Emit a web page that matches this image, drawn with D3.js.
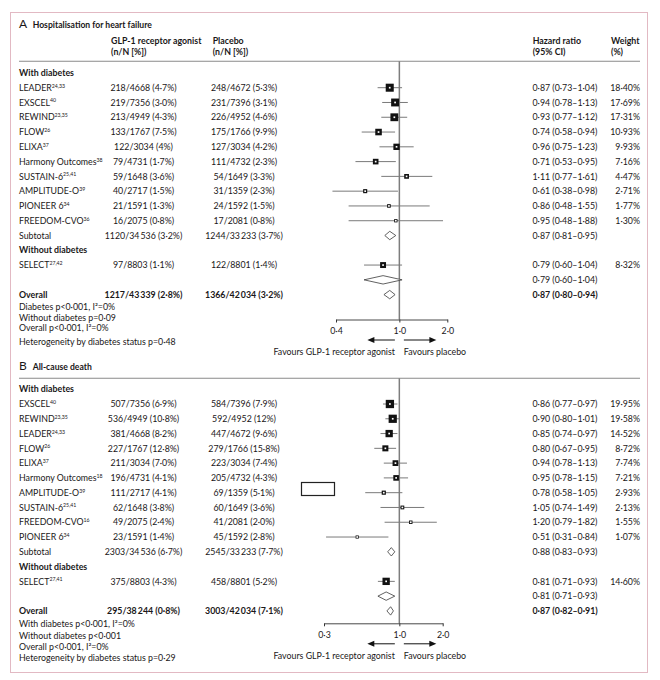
<!DOCTYPE html>
<html>
<head>
<meta charset="utf-8">
<script src="https://cdn.jsdelivr.net/npm/d3@7"></script>
<style>
  body { margin: 0; background: #fff; }
  text { font-family: Lato, "Liberation Sans", sans-serif; fill: #1a1718; }
</style>
</head>
<body>
<script>
// ---- Panel A: hospitalisation for heart failure ----
const hfStudies = ["LEADER", "EXSCEL", "REWIND", "FLOW", "ELIXA", "Harmony Outcomes",
    "SUSTAIN-6", "AMPLITUDE-O", "PIONEER 6", "FREEDOM-CVO"];
const hfRefs = ["24,33", "40", "23,35", "26", "37", "38", "25,41", "39", "34", "36"];
const hfGlp = ["218/4668 (4·7%)", "219/7356 (3·0%)", "213/4949 (4·3%)", "133/1767 (7·5%)",
    "122/3034 (4%)", "79/4731 (1·7%)", "59/1648 (3·6%)", "40/2717 (1·5%)", "21/1591 (1·3%)",
    "16/2075 (0·8%)"];
const hfPlacebo = ["248/4672 (5·3%)", "231/7396 (3·1%)", "226/4952 (4·6%)", "175/1766 (9·9%)",
    "127/3034 (4·2%)", "111/4732 (2·3%)", "54/1649 (3·3%)", "31/1359 (2·3%)", "24/1592 (1·5%)",
    "17/2081 (0·8%)"];
const hfHR = [0.87, 0.94, 0.93, 0.74, 0.96, 0.71, 1.11, 0.61, 0.86, 0.95];
const hfLow = [0.73, 0.78, 0.77, 0.58, 0.75, 0.53, 0.77, 0.38, 0.48, 0.48];
const hfHigh = [1.04, 1.13, 1.12, 0.94, 1.23, 0.95, 1.61, 0.98, 1.55, 1.88];
const hfWeight = [18.40, 17.69, 17.31, 10.93, 9.93, 7.16, 4.47, 2.71, 1.77, 1.30];
const hfSubtotal = [0.87, 0.81, 0.95];
const hfSubtotalCounts = ["1120/34\u2009536 (3·2%)", "1244/33\u2009233 (3·7%)"];
const hfSelect = [0.79, 0.60, 1.04, 8.32];
const hfSelectCounts = ["97/8803 (1·1%)", "122/8801 (1·4%)"];
const hfSelectRef = "27,42";
const hfNoDiabetes = [0.79, 0.60, 1.04];
const hfOverall = [0.87, 0.80, 0.94];
const hfOverallCounts = ["1217/43\u2009339 (2·8%)", "1366/42\u2009034 (3·2%)"];
const hfNotes = ["Diabetes p<0·001, I²=0%", "Without diabetes p=0·09",
    "Overall p<0·001, I²=0%", "Heterogeneity by diabetes status p=0·48"];
const hfTicks = [0.4, 1, 2];

// ---- Panel B: all-cause death ----
const dStudies = ["EXSCEL", "REWIND", "LEADER", "FLOW", "ELIXA", "Harmony Outcomes",
    "AMPLITUDE-O", "SUSTAIN-6", "FREEDOM-CVO", "PIONEER 6"];
const dRefs = ["40", "23,35", "24,33", "26", "37", "18", "39", "25,41", "16", "34"];
const dGlp = ["507/7356 (6·9%)", "536/4949 (10·8%)", "381/4668 (8·2%)", "227/1767 (12·8%)",
    "211/3034 (7·0%)", "196/4731 (4·1%)", "111/2717 (4·1%)", "62/1648 (3·8%)", "49/2075 (2·4%)",
    "23/1591 (1·4%)"];
const dPlacebo = ["584/7396 (7·9%)", "592/4952 (12%)", "447/4672 (9·6%)", "279/1766 (15·8%)",
    "223/3034 (7·4%)", "205/4732 (4·3%)", "69/1359 (5·1%)", "60/1649 (3·6%)", "41/2081 (2·0%)",
    "45/1592 (2·8%)"];
const dHR = [0.86, 0.90, 0.85, 0.80, 0.94, 0.95, 0.78, 1.05, 1.20, 0.51];
const dLow = [0.77, 0.80, 0.74, 0.67, 0.78, 0.78, 0.58, 0.74, 0.79, 0.31];
const dHigh = [0.97, 1.01, 0.97, 0.95, 1.13, 1.15, 1.05, 1.49, 1.82, 0.84];
const dWeight = [19.95, 19.58, 14.52, 8.72, 7.74, 7.21, 2.93, 2.13, 1.55, 1.07];
const dSubtotal = [0.88, 0.83, 0.93];
const dSubtotalCounts = ["2303/34\u2009536 (6·7%)", "2545/33\u2009233 (7·7%)"];
const dSelect = [0.81, 0.71, 0.93, 14.60];
const dSelectCounts = ["375/8803 (4·3%)", "458/8801 (5·2%)"];
const dSelectRef = "27,41";
const dNoDiabetes = [0.81, 0.71, 0.93];
const dOverall = [0.87, 0.82, 0.91];
const dOverallCounts = ["295/38\u2009244 (0·8%)", "3003/42\u2009034 (7·1%)"];
const dNotes = ["With diabetes p<0·001, I²=0%", "Without diabetes p<0·001",
    "Overall p<0·001, I²=0%", "Heterogeneity by diabetes status p=0·29"];
const dTicks = [0.3, 1, 2];

(function () {
    const svg = d3.select("body").append("svg")
        .attr("width", 660)
        .attr("height", 680);

    // outer frame
    svg.append("rect")
        .attr("x", 10.5).attr("y", 12.5)
        .attr("width", 637).attr("height", 660)
        .attr("fill", "none")
        .attr("stroke", "#e2b9c3")
        .attr("stroke-width", 1);

    const fs = 8.8;
    const pitch = 14.78;
    const col = { label: 19, glp: 143.5, placebo: 244, hr: 532.5, weight: 640 };
    const dec = v => d3.format(".2f")(v).replace(".", "·");
    const hrText = (hr, lo, hi) => `${dec(hr)} (${dec(lo)}–${dec(hi)})`;
    const sizeScale = d3.scaleSqrt().domain([0, 20]).range([1.6, 8.3]);

    function label(g, x, y, str, opts = {}) {
        const t = g.append("text")
            .attr("x", x).attr("y", y + 3.2)
            .attr("font-size", opts.size || fs)
            .attr("font-weight", opts.bold ? "bold" : null)
            .attr("text-anchor", opts.anchor || "start")
            .text(str);
        if (opts.sup) {
            t.append("tspan")
                .attr("font-size", 5.2)
                .attr("dy", -3.2)
                .text(opts.sup);
        }
        return t;
    }

    function drawPanel(p) {
        const g = svg.append("g");
        const x = d3.scaleLog().domain(p.domain).range(p.range);
        const rowY = i => p.firstRow + i * pitch;

        // title
        label(g, 19, p.titleY, p.letter, { size: 12 });
        label(g, 32.7, p.titleY, p.title, { bold: true, size: 8.6 });

        // column headers (panel A only)
        if (p.headers) {
            const hy = p.titleY + 15.7;
            [["GLP-1 receptor agonist", "(n/N [%])", 111],
             ["Placebo", "(n/N [%])", 212.7],
             ["Hazard ratio", "(95% CI)", 532.7],
             ["Weight", "(%)", 611]].forEach(h => {
                label(g, h[2], hy, h[0], { bold: true });
                label(g, h[2], hy + 11.3, h[1], { bold: true });
            });
        }

        g.append("line")
            .attr("x1", 19).attr("x2", 640)
            .attr("y1", p.ruleY).attr("y2", p.ruleY)
            .attr("stroke", "#8a8a8a").attr("stroke-width", 1.1);

        // build the row table
        const rows = p.studies.map((s, i) => ({
            name: s, ref: p.refs[i], glp: p.glp[i], placebo: p.placebo[i],
            hr: p.hr[i], lo: p.lo[i], hi: p.hi[i], weight: p.weight[i], idx: i
        }));
        rows.push({
            name: "SELECT", ref: p.selectRef, glp: p.selectCounts[0], placebo: p.selectCounts[1],
            hr: p.select[0], lo: p.select[1], hi: p.select[2], weight: p.select[3], idx: 12
        });

        // reference line at 1
        g.append("line")
            .attr("x1", x(1)).attr("x2", x(1))
            .attr("y1", p.ruleY).attr("y2", p.axisY)
            .attr("stroke", "#7d7d7d").attr("stroke-width", 1.5);

        // group labels
        label(g, col.label, rowY(-1), "With diabetes", { bold: true });
        label(g, col.label, rowY(11), "Without diabetes", { bold: true });

        // study rows
        rows.forEach(r => {
            const y = rowY(r.idx);
            label(g, col.label, y, r.name, { sup: r.ref });
            label(g, col.glp, y, r.glp, { anchor: "middle" });
            label(g, col.placebo, y, r.placebo, { anchor: "middle" });
            label(g, col.hr, y, hrText(r.hr, r.lo, r.hi));
            label(g, col.weight, y, d3.format(".2f")(r.weight).replace(".", "·") + "%", { anchor: "end" });

            g.append("line")
                .attr("x1", x(r.lo)).attr("x2", x(r.hi))
                .attr("y1", y).attr("y2", y)
                .attr("stroke", "#7a7a7a").attr("stroke-width", 1);
            const s = sizeScale(r.weight);
            g.append("rect")
                .attr("x", x(r.hr) - s / 2).attr("y", y - s / 2)
                .attr("width", s).attr("height", s)
                .attr("fill", "#111");
            g.append("rect")
                .attr("x", x(r.hr) - 0.85).attr("y", y - 0.85)
                .attr("width", 1.7).attr("height", 1.7)
                .attr("fill", "#fff");
        });

        // pooled estimates as diamonds
        function diamond(est, y) {
            const h = 4.2;
            g.append("path")
                .attr("d", `M${x(est[1])},${y} L${x(est[0])},${y - h} L${x(est[2])},${y} L${x(est[0])},${y + h} Z`)
                .attr("fill", "#fff")
                .attr("stroke", "#3a3a3a")
                .attr("stroke-width", 0.8);
        }

        // subtotal
        label(g, col.label, rowY(10), "Subtotal");
        label(g, col.glp, rowY(10), p.subtotalCounts[0], { anchor: "middle" });
        label(g, col.placebo, rowY(10), p.subtotalCounts[1], { anchor: "middle" });
        label(g, col.hr, rowY(10), hrText(...p.subtotal));
        diamond(p.subtotal, rowY(10));

        // without diabetes subtotal
        label(g, col.hr, rowY(13), hrText(...p.noDiabetes));
        diamond(p.noDiabetes, rowY(13));

        // overall
        label(g, col.label, rowY(14), "Overall", { bold: true });
        label(g, col.glp, rowY(14), p.overallCounts[0], { anchor: "middle", bold: true });
        label(g, col.placebo, rowY(14), p.overallCounts[1], { anchor: "middle", bold: true });
        label(g, col.hr, rowY(14), hrText(...p.overall), { bold: true });
        diamond(p.overall, rowY(14));

        // footnotes
        p.notes.forEach((n, i) => label(g, col.label, rowY(14) + p.noteOffsets[i], n));

        // axis
        const axis = d3.axisBottom(x)
            .tickValues(p.ticks)
            .tickSize(3)
            .tickSizeOuter(0)
            .tickFormat(d => d3.format(".1f")(d).replace(".", "·"));
        const ax = g.append("g")
            .attr("transform", `translate(0, ${p.axisY})`)
            .call(axis);
        ax.select(".domain").attr("stroke", "#333").attr("stroke-width", 0.9);
        ax.selectAll(".tick line").attr("stroke", "#333");
        ax.selectAll(".tick text")
            .attr("font-size", fs)
            .attr("font-family", "Lato, 'Liberation Sans', sans-serif")
            .attr("fill", "#1a1718")
            .attr("dy", "0.95em");

        // favours arrows
        const ay = p.axisY + 20.5;
        [[x(1) - 4.5, x(1) - 32], [x(1) + 4.5, x(1) + 37]].forEach(a => {
            const dir = Math.sign(a[1] - a[0]);
            g.append("line")
                .attr("x1", a[0]).attr("x2", a[1] - dir * 5)
                .attr("y1", ay).attr("y2", ay)
                .attr("stroke", "#111").attr("stroke-width", 1);
            g.append("path")
                .attr("d", `M${a[1]},${ay} L${a[1] - dir * 7},${ay - 3} L${a[1] - dir * 7},${ay + 3} Z`)
                .attr("fill", "#111");
        });
        label(g, x(1) - 4.5, ay + 11.7, "Favours GLP-1 receptor agonist", { anchor: "end" });
        label(g, x(1) + 4.5, ay + 11.7, "Favours placebo");

        return g;
    }

    drawPanel({
        letter: "A", title: "Hospitalisation for heart failure", headers: true,
        titleY: 25, ruleY: 61.3, firstRow: 87.7, axisY: 319.5,
        domain: [0.4, 2], range: [336, 447.3], ticks: hfTicks,
        studies: hfStudies, refs: hfRefs, glp: hfGlp, placebo: hfPlacebo,
        hr: hfHR, lo: hfLow, hi: hfHigh, weight: hfWeight,
        subtotal: hfSubtotal, subtotalCounts: hfSubtotalCounts,
        select: hfSelect, selectCounts: hfSelectCounts, selectRef: hfSelectRef,
        noDiabetes: hfNoDiabetes, overall: hfOverall, overallCounts: hfOverallCounts,
        notes: hfNotes, noteOffsets: [11.7, 22.7, 33.4, 47.5]
    });

    const panelB = drawPanel({
        letter: "B", title: "All-cause death", headers: false,
        titleY: 366.7, ruleY: 378.3, firstRow: 404, axisY: 623.3,
        domain: [0.3, 2], range: [324, 442.7], ticks: dTicks,
        studies: dStudies, refs: dRefs, glp: dGlp, placebo: dPlacebo,
        hr: dHR, lo: dLow, hi: dHigh, weight: dWeight,
        subtotal: dSubtotal, subtotalCounts: dSubtotalCounts,
        select: dSelect, selectCounts: dSelectCounts, selectRef: dSelectRef,
        noDiabetes: dNoDiabetes, overall: dOverall, overallCounts: dOverallCounts,
        notes: dNotes, noteOffsets: [13.3, 25, 36, 47]
    });

    // stray empty box that appears in the source figure
    panelB.append("rect")
        .attr("x", 301.5).attr("y", 482.5)
        .attr("width", 33).attr("height", 13)
        .attr("fill", "#fff")
        .attr("stroke", "#222")
        .attr("stroke-width", 1.2);
})();
</script>
</body>
</html>
